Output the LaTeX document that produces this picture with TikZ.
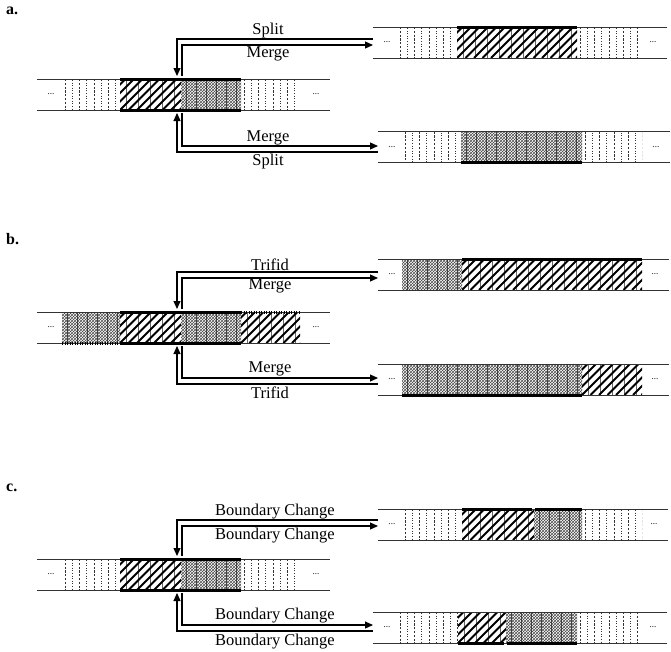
\documentclass[tikz,border=0pt]{standalone}
\usepackage{fontspec}
\setmainfont{Liberation Serif}
\usetikzlibrary{arrows.meta,patterns}

% cells of a strip: x1, x2, ytop, ybottom
\newcommand{\dotcell}[4]{%
	\begin{scope}
		\clip (#1,#3) rectangle (#2,#4);
		\foreach \k in {0,2,...,8} {\draw[black!80,line width=0.6pt,dash pattern=on 2.2pt off 1.6pt] (#1+3+\k*7.2,#3) -- (#1+3+\k*7.2,#4);}
		\foreach \k in {1,3,...,7} {\draw[black!80,line width=0.7pt,dash pattern=on 0.8pt off 1.8pt] (#1+3+\k*7.2,#3+1) -- (#1+3+\k*7.2,#4);}
	\end{scope}}
\newcommand{\hatchcell}[4]{%
	\begin{scope}
		\clip (#1,#3) rectangle (#2,#4);
		\foreach \k in {0,...,15} {\draw[black!60,line width=0.4pt] (#1+6+\k*12,#3) -- (#1+6+\k*12,#4);}
		\foreach \k in {-4,...,22} {\draw[line width=2pt] (#1+\k*8.5,#4) -- ++(32,-32);}
	\end{scope}}
\newcommand{\crosscell}[4]{%
	\fill[pattern=crosshatch,pattern color=black!70] (#1,#3) rectangle (#2,#4);
	\begin{scope}
		\clip (#1,#3) rectangle (#2,#4);
		\foreach \k in {0,...,18} {\draw[black!75,line width=0.5pt] (#1+5+\k*10,#3) -- (#1+5+\k*10,#4);}
	\end{scope}}

\tikzset{
	strip/.style={inner sep=0pt, outer sep=0pt, minimum height=31pt},
	rail/.style={line width=0.8pt, black!80},
	bar/.style={line width=3pt},
	dotbar/.style={line width=3pt, dash pattern=on 1pt off 1.5pt},
	flow/.style={line width=1.1pt, -{Triangle[length=8pt,width=7pt]}},
	lbl/.style={font=\fontsize{16.5}{19}\selectfont, inner sep=0pt},
	more/.style={font=\fontsize{9}{10}\selectfont, inner sep=0pt},
	panel/.style={font=\fontsize{16}{19}\selectfont\bfseries, anchor=west, inner sep=0pt},
}

\begin{document}
\begin{tikzpicture}[x=1pt, y=-1pt]
	\useasboundingbox (0,0) rectangle (671,651);

	% ---------- a ----------
	\node[panel] (la) at (6,11) {a.};
	\node[strip, minimum width=293pt] (aL) at (183.5,94.5) {};
	\node[strip, minimum width=294pt] (aRT) at (520,42.5) {};
	\node[strip, minimum width=292pt] (aRB) at (524,147) {};
	\dotcell{62}{120}{79}{110} \hatchcell{120}{181}{79}{110} \crosscell{181}{241}{79}{110} \dotcell{241}{300}{79}{110}
	\dotcell{397}{457}{27}{58} \hatchcell{457}{577}{27}{58} \dotcell{577}{638}{27}{58}
	\dotcell{402}{461}{131.5}{162.5} \crosscell{461}{582}{131.5}{162.5} \dotcell{582}{642}{131.5}{162.5}
	\foreach \s in {aL,aRT,aRB} {
		\draw[rail] (\s.north west) -- (\s.north east);
		\draw[rail] (\s.south west) -- (\s.south east);
		\node[more] at ([xshift=14pt]\s.west) {...};
		\node[more] at ([xshift=-14pt]\s.east) {...};
	}
	\draw[bar] (120,79) -- (241,79);
	\draw[bar] (120,110) -- (241,110);
	\draw[bar] (457,27) -- (577,27);
	\draw[bar] (461,162.5) -- (582,162.5);
	\coordinate (aLt) at (179.5,76);
	\coordinate (aLb) at (179.5,113);
	\draw[flow] (aRT.west |- 0,39) -| ([xshift=-2.5pt]aLt);
	\draw[flow] ([xshift=2.5pt]aLt) |- (aRT.west |- 0,45);
	\draw[flow] ([xshift=2.5pt]aLb) |- (aRB.west |- 0,146);
	\draw[flow] (aRB.west |- 0,152) -| ([xshift=-2.5pt]aLb);
	\node[lbl] (as1) at (268,31) {Split};
	\node[lbl] (am1) at (268,54) {Merge};
	\node[lbl] (am2) at (268,138) {Merge};
	\node[lbl] (as2) at (268,162) {Split};

	% ---------- b ----------
	\node[panel] (lb) at (6,239) {b.};
	\node[strip, minimum width=293pt] (bL) at (183.5,327.5) {};
	\node[strip, minimum width=291pt] (bRT) at (523.5,274.5) {};
	\node[strip, minimum width=291pt] (bRB) at (523.5,379.5) {};
	\crosscell{62}{120}{312}{343} \hatchcell{120}{181}{312}{343} \crosscell{181}{241}{312}{343} \hatchcell{241}{300}{312}{343}
	\crosscell{402}{462}{259}{290} \hatchcell{462}{642}{259}{290}
	\crosscell{402}{582}{364}{395} \hatchcell{582}{642}{364}{395}
	\foreach \s in {bL,bRT,bRB} {
		\draw[rail] (\s.north west) -- (\s.north east);
		\draw[rail] (\s.south west) -- (\s.south east);
		\node[more] at ([xshift=14pt]\s.west) {...};
		\node[more] at ([xshift=-14pt]\s.east) {...};
	}
	\draw[bar] (120,312) -- (241,312);
	\draw[bar] (120,343) -- (241,343);
	\draw[dotbar] (62,343) -- (120,343);
	\draw[dotbar] (241,312) -- (300,312);
	\draw[bar] (462,259) -- (642,259);
	\draw[bar] (402,395) -- (582,395);
	\coordinate (bLt) at (179.5,309);
	\coordinate (bLb) at (179.5,346);
	\draw[flow] (bRT.west |- 0,272) -| ([xshift=-2.5pt]bLt);
	\draw[flow] ([xshift=2.5pt]bLt) |- (bRT.west |- 0,278);
	\draw[flow] ([xshift=2.5pt]bLb) |- (bRB.west |- 0,378);
	\draw[flow] (bRB.west |- 0,384) -| ([xshift=-2.5pt]bLb);
	\node[lbl] (bt1) at (270,265) {Trifid};
	\node[lbl] (bm1) at (270,286) {Merge};
	\node[lbl] (bm2) at (270,369) {Merge};
	\node[lbl] (bt2) at (270,393) {Trifid};

	% ---------- c ----------
	\node[panel] (lc) at (6,488) {c.};
	\node[strip, minimum width=293pt] (cL) at (183.5,574.5) {};
	\node[strip, minimum width=290pt] (cRT) at (523,524.5) {};
	\node[strip, minimum width=294pt] (cRB) at (520,627.5) {};
	\dotcell{62}{120}{559}{590} \hatchcell{120}{181}{559}{590} \crosscell{181}{241}{559}{590} \dotcell{241}{300}{559}{590}
	\dotcell{402}{462}{509}{540} \hatchcell{462}{534}{509}{540} \crosscell{534}{582}{509}{540} \dotcell{582}{642}{509}{540}
	\dotcell{397}{458}{612}{643} \hatchcell{458}{506}{612}{643} \crosscell{506}{577}{612}{643} \dotcell{577}{638}{612}{643}
	\foreach \s in {cL,cRT,cRB} {
		\draw[rail] (\s.north west) -- (\s.north east);
		\draw[rail] (\s.south west) -- (\s.south east);
		\node[more] at ([xshift=14pt]\s.west) {...};
		\node[more] at ([xshift=-14pt]\s.east) {...};
	}
	\draw[bar] (120,559) -- (241,559);
	\draw[bar] (120,590) -- (241,590);
	\draw[bar] (462,509) -- (532,509);
	\draw[bar] (535,509) -- (582,509);
	\draw[bar] (458,643) -- (504,643);
	\draw[bar] (507,643) -- (577,643);
	\coordinate (cLt) at (179.5,556);
	\coordinate (cLb) at (179.5,593);
	\draw[flow] (cRT.west |- 0,520) -| ([xshift=-2.5pt]cLt);
	\draw[flow] ([xshift=2.5pt]cLt) |- (cRT.west |- 0,526);
	\draw[flow] ([xshift=2.5pt]cLb) |- (cRB.west |- 0,625);
	\draw[flow] (cRB.west |- 0,631) -| ([xshift=-2.5pt]cLb);
	\node[lbl] (cb1) at (275,512) {Boundary Change};
	\node[lbl] (cb2) at (275,536) {Boundary Change};
	\node[lbl] (cb3) at (275,616) {Boundary Change};
	\node[lbl] (cb4) at (275,642) {Boundary Change};
\end{tikzpicture}
\end{document}
